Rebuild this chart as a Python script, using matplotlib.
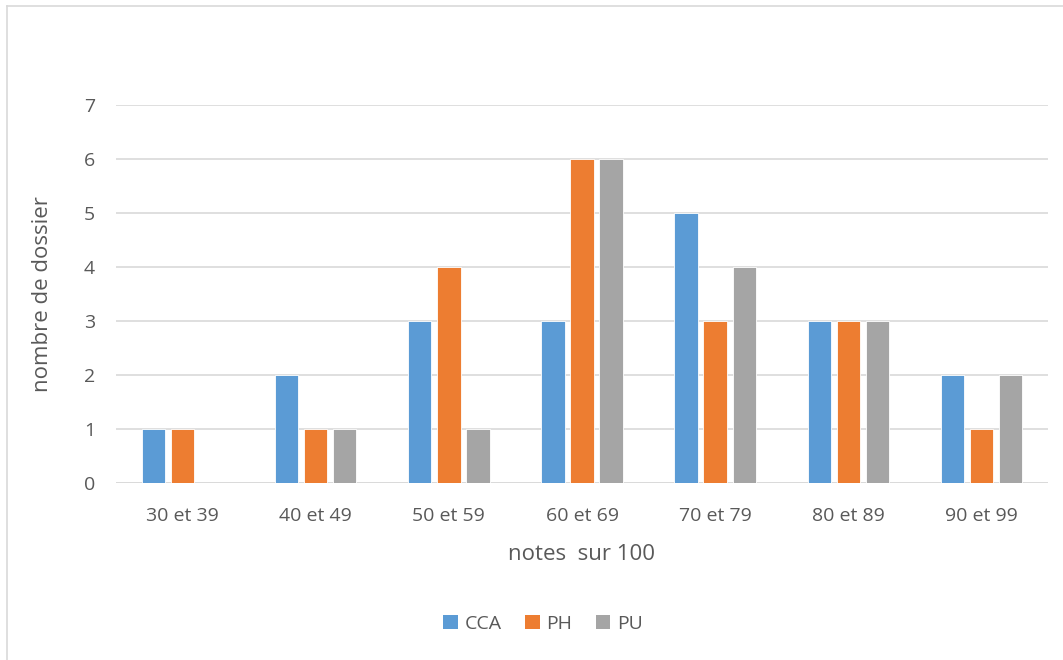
import matplotlib
matplotlib.use("Agg")
import matplotlib.pyplot as plt
import numpy as np
from matplotlib.lines import Line2D
from matplotlib.patches import Patch

categories = ["30 et 39", "40 et 49", "50 et 59", "60 et 69", "70 et 79", "80 et 89", "90 et 99"]
series_names = ["CCA", "PH", "PU"]
cca = [1, 2, 3, 3, 5, 3, 2]
ph = [1, 1, 4, 6, 3, 3, 1]
pu = [0, 1, 1, 6, 4, 3, 2]
colors = ["#5B9BD5", "#ED7D31", "#A5A5A5"]

plt.rcParams['font.family'] = ['Open Sans', 'DejaVu Sans']
txt = "#595959"

W, H = 1063, 660
fig = plt.figure(figsize=(W/100, H/100), dpi=100)
ax = fig.add_axes([116/W, 1-483/H, (1048-116)/W, (483-105)/H])

x = np.arange(len(categories))
bw = 0.175
step = 0.218
for i, (vals, c) in enumerate(zip([cca, ph, pu], colors)):
    ax.bar(x + (i-1)*step, vals, width=bw, color=c, edgecolor="white", linewidth=0.6, zorder=3)

ax.set_xlim(-0.5, len(categories)-0.5)
ax.set_ylim(0, 7)
ax.set_yticks(range(8))
ax.yaxis.grid(True, color="#D9D9D9", linewidth=1.2, zorder=0)
for s in ax.spines.values():
    s.set_visible(False)
ax.axhline(0, color="#D9D9D9", linewidth=1.2, zorder=1)
ax.tick_params(axis="both", length=0, labelsize=14, colors=txt)
ax.tick_params(axis="y", pad=15)
ax.tick_params(axis="x", pad=17)
ax.set_xticks(x)
ax.set_xticklabels(categories)
ax.set_xlabel("notes  sur 100", fontsize=16, color=txt, labelpad=14)
ax.set_ylabel("nombre de dossier", fontsize=16, color=txt, labelpad=22)

handles = [Patch(facecolor=c, edgecolor="none") for c in colors]
fig.legend(handles, series_names, loc="center", bbox_to_anchor=(543/W, 1-624/H), ncol=3,
           frameon=False, fontsize=14, labelcolor=txt, handlelength=0.75, handleheight=0.75,
           handletextpad=0.35, columnspacing=1.2)

# chart border (top and left visible)
fig.add_artist(Line2D([7/W, 7/W], [0, 1-6/H], color="#D9D9D9", linewidth=1.2, transform=fig.transFigure))
fig.add_artist(Line2D([7/W, 1], [1-6/H, 1-6/H], color="#D9D9D9", linewidth=1.2, transform=fig.transFigure))

fig.savefig("out.png", dpi=100)
